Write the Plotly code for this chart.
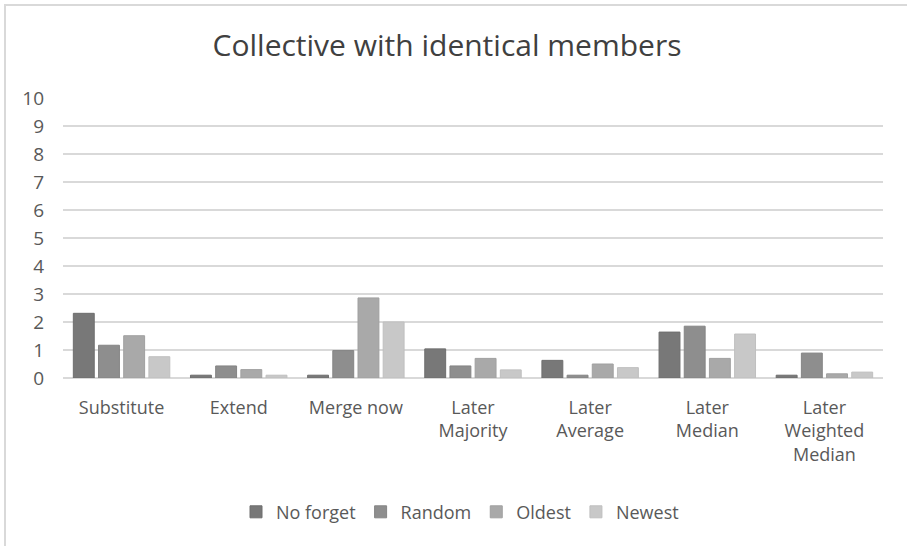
import plotly.graph_objects as go

categories = ["Substitute", "Extend", "Merge now", "Later<br>Majority",
              "Later<br>Average", "Later<br>Median", "Later<br>Weighted<br>Median"]
series_names = ["No forget", "Random", "Oldest", "Newest"]
no_forget = [2.31, 0.10, 0.10, 1.04, 0.63, 1.64, 0.10]
random_ = [1.17, 0.43, 0.98, 0.43, 0.10, 1.85, 0.89]
oldest = [1.51, 0.30, 2.86, 0.70, 0.50, 0.70, 0.15]
newest = [0.76, 0.10, 2.00, 0.29, 0.37, 1.57, 0.21]
y_ticks = list(range(0, 11))

colors = ["#787878", "#8e8e8e", "#a9a9a9", "#c8c8c8"]
edges = ["#6e6e6e", "#858585", "#a0a0a0", "#bfbfbf"]
values = [no_forget, random_, oldest, newest]

fig = go.Figure()
for name, vals, c, e in zip(series_names, values, colors, edges):
    fig.add_trace(go.Bar(x=categories, y=vals, name=name,
                         marker=dict(color=c, line=dict(color=e, width=1))))

W, H = 907, 546
fig.update_layout(
    width=W, height=H,
    margin=dict(l=63, r=24, t=98, b=168),
    paper_bgcolor="white", plot_bgcolor="white",
    font=dict(family="Open Sans, Noto Sans, sans-serif", color="#595959", size=18),
    title=dict(text="Collective with identical members", x=447 / W, xanchor="center",
               y=1 - 45 / H, yanchor="middle",
               font=dict(size=30, color="#404040")),
    barmode="group", bargap=0.14, bargroupgap=0.17,
    showlegend=True,
    legend=dict(orientation="h", x=(460 - 63) / 820, xanchor="center", y=-0.479,
                yanchor="middle", font=dict(size=18, color="#595959"), itemwidth=30,
                traceorder="normal"),
    xaxis=dict(showgrid=False, showline=False, ticks="", tickfont=dict(size=18),
               ticklabelstandoff=17),
    yaxis=dict(range=[0, 10], tickvals=y_ticks, showgrid=True, gridcolor="#d9d9d9",
               gridwidth=1.5, zeroline=True, zerolinecolor="#d9d9d9", zerolinewidth=1.5,
               showline=False, ticks="", tickfont=dict(size=19), ticklabelstandoff=18),
    shapes=[dict(type="rect", xref="paper", yref="paper",
                 x0=-58 / 820, x1=1 + 40 / 820, y0=-200 / 280, y1=1 + 93 / 280,
                 line=dict(color="#d9d9d9", width=2), layer="below")],
)

fig.write_html("out.html")
